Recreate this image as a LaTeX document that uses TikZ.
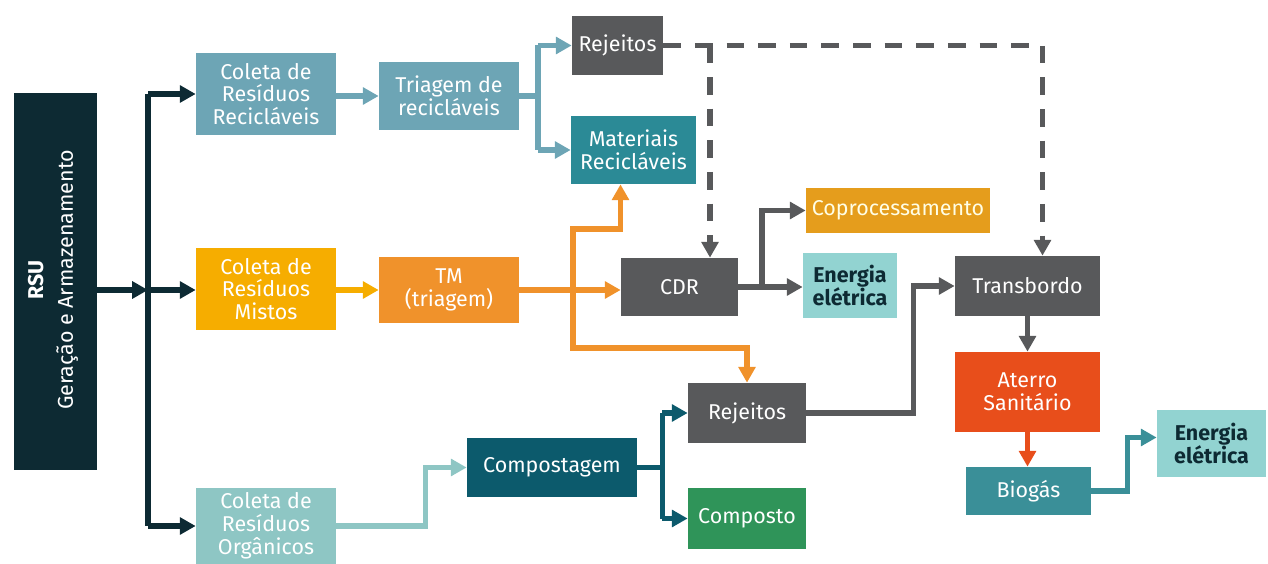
\documentclass[tikz,border=0pt]{standalone}
\usepackage{fontspec}
\setmainfont{Fira Sans}
\usetikzlibrary{arrows.meta,calc}
\definecolor{cNavy}{HTML}{0D2A33}
\definecolor{cSteel}{HTML}{6DA5B5}
\definecolor{cGray}{HTML}{58595B}
\definecolor{cTeal}{HTML}{2B8A96}
\definecolor{cYellow}{HTML}{F6AD00}
\definecolor{cOrange}{HTML}{F0922B}
\definecolor{cCopro}{HTML}{E59D1C}
\definecolor{cLight}{HTML}{92D3D1}
\definecolor{cRed}{HTML}{E84E1B}
\definecolor{cBio}{HTML}{3A8F98}
\definecolor{cOrg}{HTML}{8EC6C4}
\definecolor{cComp}{HTML}{0C5A6C}
\definecolor{cGreen}{HTML}{2F9459}
\tikzset{
  bx/.style 2 args={rectangle, inner sep=0pt, align=center, text=white,
    minimum width=#1*0.02cm, minimum height=#2*0.02cm,
    font=\fontsize{12.2}{13}\selectfont},
  conn/.style={line width=2.9pt},
  tip/.style={-{Triangle[length=9pt,width=9.5pt]}},
  dsh/.style={dash pattern=on 10pt off 8pt},
}
\begin{document}
\begin{tikzpicture}[x=0.02cm,y=-0.02cm]
\useasboundingbox (0,0) rectangle (1268,564);
% nodes
\node[bx={83}{377}, fill=cNavy] (rsu) at (55.5,281.5) {};
\node[rotate=90, align=center, text=white, font=\fontsize{12.2}{17}\selectfont] (rsut) at (53,280) {\textbf{RSU}\\Geração e Armazenamento};
\node[bx={140}{82}, fill=cSteel] (cr) at (266,94) {Coleta de\\Resíduos\\Recicláveis};
\node[bx={140}{68}, fill=cSteel] (tr) at (449,96) {Triagem de\\recicláveis};
\node[bx={91}{59}, fill=cGray] (rj1) at (617.5,45.5) {Rejeitos};
\node[bx={125}{68}, fill=cTeal] (mr) at (633.5,150) {Materiais\\Recicláveis};
\node[bx={140}{82}, fill=cYellow] (cm) at (266,289) {Coleta de\\Resíduos\\Mistos};
\node[bx={140}{66}, fill=cOrange] (tm) at (449,290) {TM\\(triagem)};
\node[bx={117}{58}, fill=cGray] (cdr) at (679.5,287) {CDR};
\node[bx={184}{45}, fill=cCopro, text=yellow!10] (cop) at (898,210.5) {Coprocessamento};
\node[bx={94}{65}, fill=cLight, text=cNavy, font=\fontsize{12.2}{13}\selectfont\bfseries] (ee1) at (850,285.5) {Energia\\elétrica};
\node[bx={145}{60}, fill=cGray] (tb) at (1027.5,286) {Transbordo};
\node[bx={118}{60}, fill=cGray] (rj2) at (747,413) {Rejeitos};
\node[bx={145}{80}, fill=cRed] (at) at (1027.5,392) {Aterro\\Sanitário};
\node[bx={125}{48}, fill=cBio] (bg) at (1028.5,491) {Biogás};
\node[bx={109}{67}, fill=cLight, text=cNavy, font=\fontsize{12.2}{13}\selectfont\bfseries] (ee2) at (1211.5,443.5) {Energia\\elétrica};
\node[bx={140}{76}, fill=cOrg] (co) at (266,526) {Coleta de\\Resíduos\\Orgânicos};
\node[bx={170}{59}, fill=cComp] (cp) at (552,467.5) {Compostagem};
\node[bx={118}{61}, fill=cGreen] (cs) at (747,518.5) {Composto};
% coordinates
\coordinate (tk) at (148,290);
\coordinate (sp) at (538,96);
\coordinate (o1) at (573,229);
\coordinate (o2) at (573,348);
\coordinate (c1) at (762,287);
\coordinate (d1) at (710,45.5);
% RSU trunk
\draw[conn, cNavy, tip] (rsu.east |- tk) -- (tk);
\draw[conn, cNavy] (cr.west -| tk) -- (co.west -| tk);
\draw[conn, cNavy, tip] (cr.west -| tk) -- (cr.west);
\draw[conn, cNavy, tip] (tk) -- (cm.west |- tk);
\draw[conn, cNavy, tip] (co.west -| tk) -- (co.west);
% recyclables
\draw[conn, cSteel, tip] (cr.east |- tr.west) -- (tr.west);
\draw[conn, cSteel] (tr.east) -- (sp);
\draw[conn, cSteel] (sp |- rj1.west) -- (sp |- mr.west);
\draw[conn, cSteel, tip] (sp |- rj1.west) -- (rj1.west);
\draw[conn, cSteel, tip] (sp |- mr.west) -- (mr.west);
% mixed
\draw[conn, cYellow, tip] (cm.east |- tm.west) -- (tm.west);
\draw[conn, cOrange, tip] (tm.east) -- (tm.east -| cdr.west);
\draw[conn, cOrange, tip] (o2) -- (o1) -| ($(mr.south)+(-13,0)$);
\draw[conn, cOrange, tip] (o1) -- (o2) -| (rj2.north);
% CDR
\draw[conn, cGray, tip] (cdr.east) -- (cdr.east -| ee1.west);
\draw[conn, cGray, tip] (c1) |- (cop.west);
% dashed
\draw[conn, cGray, dsh, tip] (rj1.east) -| ($(tb.north)+(15,0)$);
\draw[conn, cGray, dsh, tip] (d1) -- (d1 |- cdr.north);
% rejeitos to transbordo
\draw[conn, cGray, tip] (rj2.east) -- ++(107,0) |- (tb.west);
\draw[conn, cGray, tip] (tb.south) -- (tb.south |- at.north);
\draw[conn, cRed, tip] (at.south) -- (at.south |- bg.north);
\draw[conn, cBio, tip] (bg.east) -- ++(36,0) |- ($(ee2.west)+(0,-6)$);
% organics
\draw[conn, cOrg, tip] (co.east) -- ++(89,0) |- (cp.west);
\draw[conn, cComp] (cp.east) -- ++(25,0) coordinate (s2);
\draw[conn, cComp] (s2 |- rj2.west) -- (s2 |- cs.west);
\draw[conn, cComp, tip] (s2 |- rj2.west) -- (rj2.west);
\draw[conn, cComp, tip] (s2 |- cs.west) -- (cs.west);
\end{tikzpicture}
\end{document}
